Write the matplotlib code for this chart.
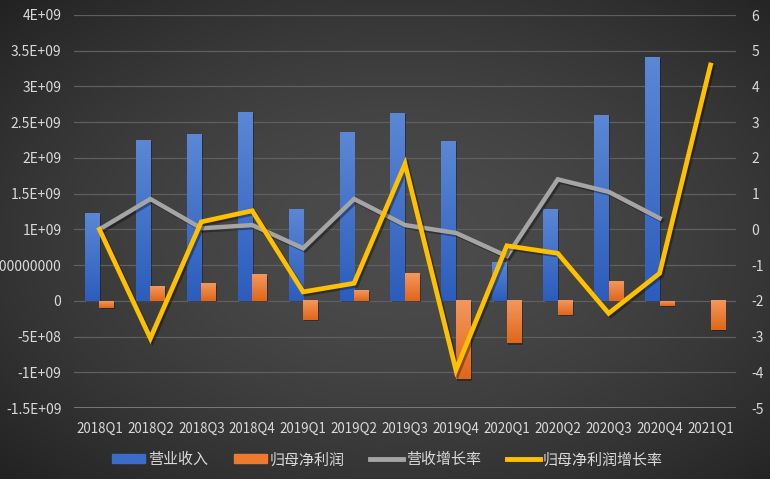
import numpy as np
import matplotlib
matplotlib.use("Agg")
import matplotlib.pyplot as plt
from matplotlib import patheffects as pe
from matplotlib.colors import LinearSegmentedColormap
from matplotlib.lines import Line2D
from matplotlib.patches import Patch

plt.rcParams['font.family'] = ['Noto Sans CJK SC', 'DejaVu Sans']

categories = ["2018Q1", "2018Q2", "2018Q3", "2018Q4", "2019Q1", "2019Q2", "2019Q3",
              "2019Q4", "2020Q1", "2020Q2", "2020Q3", "2020Q4", "2021Q1"]
revenue = [1.218e9, 2.253e9, 2.337e9, 2.645e9, 1.274e9, 2.365e9, 2.631e9,
           2.239e9, 0.532e9, 1.274e9, 2.603e9, 3.401e9, np.nan]
net_profit = [-0.094e9, 0.196e9, 0.238e9, 0.364e9, -0.266e9, 0.140e9, 0.378e9,
              -1.100e9, -0.597e9, -0.196e9, 0.266e9, -0.066e9, -0.406e9]
revenue_growth = [0.0, 0.85, 0.03, 0.12, -0.53, 0.85, 0.12, -0.10, -0.75, 1.40, 1.05, 0.31, np.nan]
profit_growth = [0.0, -3.05, 0.21, 0.52, -1.75, -1.51, 1.83, -3.94, -0.46, -0.67, -2.35, -1.23, 4.60]

left_ticks = [-1.5e9, -1e9, -5e8, 0, 5e8, 1e9, 1.5e9, 2e9, 2.5e9, 3e9, 3.5e9, 4e9]
left_labels = ["-1.5E+09", "-1E+09", "-5E+08", "0", "500000000", "1E+09", "1.5E+09",
               "2E+09", "2.5E+09", "3E+09", "3.5E+09", "4E+09"]
right_ticks = [-5, -4, -3, -2, -1, 0, 1, 2, 3, 4, 5, 6]
legend_labels = ["营业收入", "归母净利润", "营收增长率", "归母净利润增长率"]

W, H = 770, 479
fig = plt.figure(figsize=(W / 100, H / 100), dpi=100)

# background radial gradient
bg = fig.add_axes([0, 0, 1, 1], zorder=-10)
yy, xx = np.mgrid[0:1:300j, 0:1:480j]
r = np.sqrt(((xx - 0.52) / 0.72) ** 2 + ((yy - 0.5) / 0.72) ** 2)
r = np.clip(r, 0, 1)
val = (0x4c - (0x4c - 0x22) * r ** 1.6) / 255.0
bg.imshow(np.dstack([val, val, val]), extent=[0, 1, 0, 1], aspect='auto', origin='lower')
bg.axis('off')

ax = fig.add_axes([74 / W, 1 - 408 / H, (736 - 74) / W, (408 - 15) / H])
ax.set_facecolor('none')
ax2 = ax.twinx()
ax2.set_facecolor('none')

x = np.arange(len(categories))
bw = 0.285
blue_cmap = LinearSegmentedColormap.from_list('b', ['#2c5dbd', '#5b87d5'])
orange_cmap = LinearSegmentedColormap.from_list('o', ['#e0661a', '#f4975c'])

bars_b = ax.bar(x - bw / 2, revenue, bw, color='#3a6cc9', zorder=3)
bars_o = ax.bar(x + bw / 2, net_profit, bw, color='#ee7a30', zorder=3)

grad = np.linspace(0, 1, 100).reshape(-1, 1)
for bars, cmap in ((bars_b, blue_cmap), (bars_o, orange_cmap)):
    for b in bars:
        h = b.get_height()
        if not np.isfinite(h) or h == 0:
            continue
        x0 = b.get_x()
        x1 = x0 + b.get_width()
        y0, y1 = min(0, h), max(0, h)
        # shadow
        ax.add_patch(plt.Rectangle((x0 + 0.025, y0 - 0.02e9), x1 - x0, y1 - y0,
                                   color='black', alpha=0.3, zorder=2, lw=0))
        ax.imshow(grad, extent=[x0, x1, y0, y1], aspect='auto', cmap=cmap,
                  origin='lower', zorder=3.5, interpolation='bilinear')

ax.set_xlim(-0.5, len(categories) - 0.5)
ax.set_ylim(-1.5e9, 4e9)
ax2.set_ylim(-5, 6)
ax.set_aspect('auto')

ax.set_yticks(left_ticks)
ax.set_yticklabels(left_labels)
ax2.set_yticks(right_ticks)
ax2.set_yticklabels([str(t) for t in right_ticks])
ax.set_xticks(x)
ax.set_xticklabels(categories)

for t in left_ticks[1:]:
    ax.axhline(t, color='#5f5f5f', lw=0.9, zorder=1)
ax.axhline(-1.5e9, color='#8c8c8c', lw=1.8, zorder=1)

lab_col = '#d9d9d9'
ax.tick_params(axis='y', length=0, pad=9, labelsize=10, labelcolor=lab_col)
ax2.tick_params(axis='y', length=0, pad=11, labelsize=10, labelcolor=lab_col)
ax.tick_params(axis='x', length=0, pad=10, labelsize=9.6, labelcolor=lab_col)
for a in (ax, ax2):
    for s in a.spines.values():
        s.set_visible(False)

shadow = [pe.SimpleLineShadow(offset=(1.5, -1.5), alpha=0.35, shadow_color='black'), pe.Normal()]
ax2.plot(x, revenue_growth, color='#a5a5a5', lw=3.2, zorder=5, solid_joinstyle='miter',
         path_effects=shadow)
ax2.plot(x, profit_growth, color='#ffc000', lw=3.4, zorder=6, solid_joinstyle='miter',
         path_effects=shadow)

handles = [Patch(color='#3a6cc9'), Patch(color='#ee7a30'),
           Line2D([], [], color='#a5a5a5', lw=3.5),
           Line2D([], [], color='#ffc000', lw=3.5)]
leg = fig.legend(handles, legend_labels, loc='center', bbox_to_anchor=(0.503, 1 - 460 / H),
                 ncol=4, frameon=False, fontsize=10.8, handlelength=2.2, handleheight=0.55,
                 handletextpad=0.2, columnspacing=1.7, labelcolor=lab_col)

fig.savefig('out.png', dpi=100)
